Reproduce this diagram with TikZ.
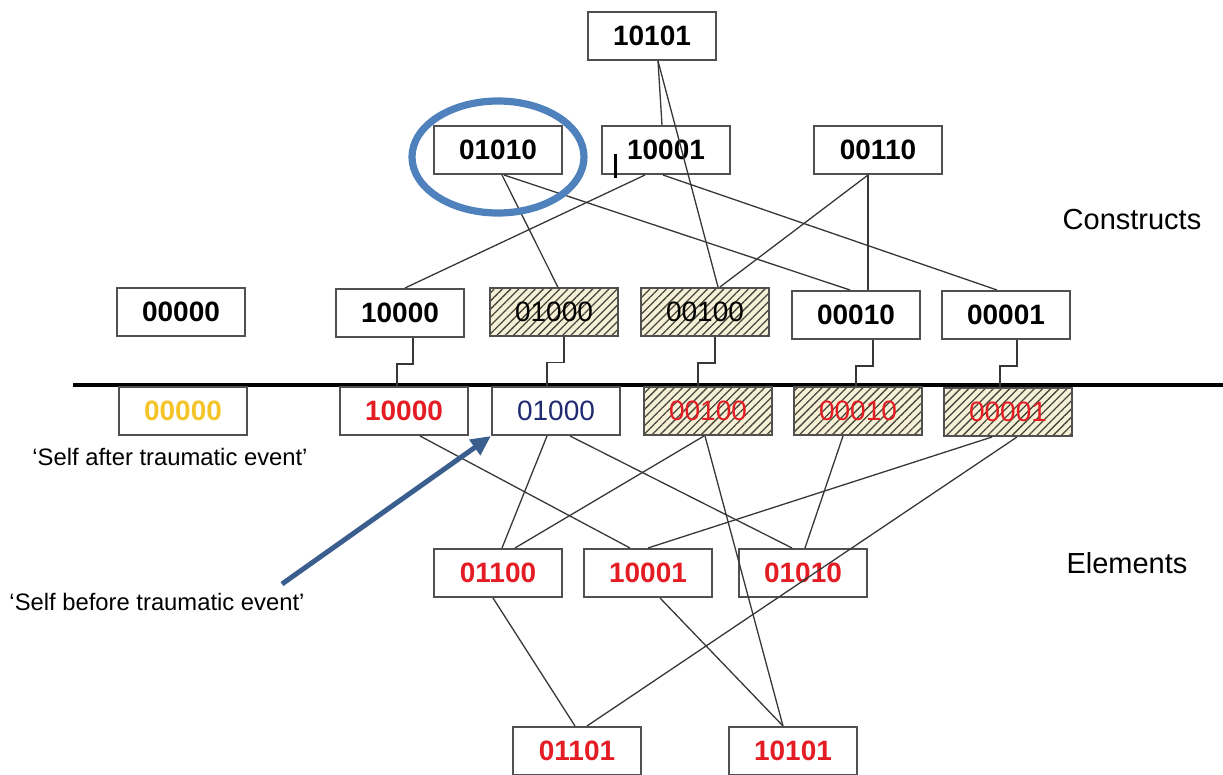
\documentclass[tikz,border=0pt]{standalone}
\usepackage{fontspec}
\setmainfont{Liberation Sans}
\usetikzlibrary{calc,arrows.meta,patterns.meta}

\definecolor{elemred}{RGB}{228,28,36}
\definecolor{selfblue}{RGB}{32,42,112}
\definecolor{nullgold}{RGB}{244,196,40}
\definecolor{hatchbg}{RGB}{246,241,214}
\definecolor{hatchfg}{RGB}{70,70,60}
\definecolor{ringblue}{RGB}{79,129,189}
\definecolor{arrowblue}{RGB}{58,95,143}
\definecolor{framegray}{RGB}{80,80,80}
\definecolor{linkgray}{RGB}{55,55,55}

\tikzset{
    plainbox/.style={draw=framegray, line width=1pt, minimum width=64pt,
        minimum height=24pt, inner sep=0pt,
        font=\fontsize{14}{16}\selectfont\bfseries},
    hatchbox/.style={plainbox, font=\fontsize{14}{16}\selectfont,
        preaction={fill=hatchbg},
        pattern={Lines[angle=45,distance=2.9pt,line width=0.65pt]},
        pattern color=hatchfg},
    link/.style={draw=linkgray, line width=0.65pt},
    tag/.style={font=\fontsize{11.9}{14}\selectfont},
    side/.style={font=\fontsize{14.5}{17}\selectfont}
}

\begin{document}
\begin{tikzpicture}[x=0.5pt,y=-0.5pt]
    % Page size of the reference (units are pixels)
    \useasboundingbox (0,0) rectangle (1223,775);

    % Constructs
    \node[plainbox] (cTop)   at (652,36)  {10101};
    \node[plainbox] (c01010) at (498,150) {01010};
    \node[plainbox] (c10001) at (666,150) {10001};
    \node[plainbox] (c00110) at (878,150) {00110};
    \node[plainbox] (c00000) at (181,312) {00000};
    \node[plainbox] (c10000) at (400,313) {10000};
    \node[hatchbox] (c01000) at (554,312) {01000};
    \node[hatchbox] (c00100) at (705,312) {00100};
    \node[plainbox] (c00010) at (856,315) {00010};
    \node[plainbox] (c00001) at (1006,315) {00001};

    % Dividing line
    \coordinate (lineL) at (73,385);
    \coordinate (lineR) at (1223,385);
    \draw[line width=2.2pt] (lineL) -- (lineR);

    % Elements
    \node[plainbox, text=nullgold] (e00000) at (183,411) {00000};
    \node[plainbox, text=elemred]  (e10000) at (404,411) {10000};
    \node[plainbox, text=selfblue, font=\fontsize{14}{16}\selectfont] (e01000) at (556,411) {01000};
    \node[hatchbox, text=elemred]  (e00100) at (708,411) {00100};
    \node[hatchbox, text=elemred]  (e00010) at (858,411) {00010};
    \node[hatchbox, text=elemred]  (e00001) at (1008,412) {00001};
    \node[plainbox, text=elemred]  (e01100) at (498,573) {01100};
    \node[plainbox, text=elemred]  (e10001) at (648,573) {10001};
    \node[plainbox, text=elemred]  (e01010) at (803,573) {01010};
    \node[plainbox, text=elemred]  (e01101) at (577,751) {01101};
    \node[plainbox, text=elemred]  (e10101) at (793,751) {10101};

    % Links between constructs
    \draw[link] ($(cTop.south)+(6,0)$)    -- ($(c10001.north)+(-4,0)$);
    \draw[link] ($(cTop.south)+(6,0)$)    -- ($(c00100.north)+(13,0)$);
    \draw[link] ($(c01010.south)+(4,0)$)  -- ($(c01000.north)+(4,0)$);
    \draw[link] ($(c01010.south)+(6,0)$)  -- ($(c00010.north)+(-6,0)$);
    \draw[link] ($(c10001.south)+(-21,0)$) -- ($(c10000.north)+(5,0)$);
    \draw[link] ($(c10001.south)+(-3,0)$) -- ($(c00001.north)+(-9,0)$);
    \draw[link] ($(c00110.south)+(-10,0)$) -- ($(c00100.north)+(15,0)$);
    \draw[link] ($(c00110.south)+(-10,0)$) -- ($(c00010.north)+(12,0)$);

    % Steps from each atom construct to its element
    \foreach \n/\a/\b in {10000/13/-7, 01000/10/-9, 00100/10/-10, 00010/17/-2, 00001/11/-8}
        \draw[link] ($(c\n.south)+(\a,0)$) -- ++(0,26) -| ($(e\n.north)+(\b,0)$);

    % Links between elements
    \draw[link] ($(e10000.south)+(16,0)$)  -- ($(e10001.north)+(-18,0)$);
    \draw[link] ($(e01000.south)+(-9,0)$)  -- ($(e01100.north)+(4,0)$);
    \draw[link] ($(e01000.south)+(14,0)$)  -- ($(e01010.north)+(-11,0)$);
    \draw[link] ($(e00100.south)+(-4,0)$)  -- ($(e01100.north)+(17,0)$);
    \draw[link] ($(e00100.south)+(-3,0)$)  -- ($(e10101.north)+(-10,0)$);
    \draw[link] ($(e00010.south)+(-15,0)$) -- ($(e01010.north)+(2,0)$);
    \draw[link] ($(e00001.south)+(-16,0)$) -- ($(e10001.north)+(0,0)$);
    \draw[link] ($(e00001.south)+(9,0)$)   -- ($(e01101.north)+(10,0)$);
    \draw[link] ($(e01100.south)+(-5,0)$)  -- ($(e01101.north)+(-2,0)$);
    \draw[link] ($(e10001.south)+(12,0)$)  -- ($(e10101.north)+(-10,0)$);

    % Stray tick beside 10001
    \draw[line width=1.5pt] (615,154) -- (615,178);

    % Ring round 01010 and arrow to the self element
    \draw[ringblue, line width=3.6pt] (498,157) ellipse [x radius=86, y radius=56];
    \coordinate (arrowTail) at (282,584);
    \draw[arrowblue, line width=2.5pt, -{Triangle[length=10pt,width=9pt]}] (arrowTail) -- (e01000.south west);

    % Labels
    \node[tag]  (after)      at (170,457)  {‘Self after traumatic event’};
    \node[tag]  (before)     at (157,602)  {‘Self before traumatic event’};
    \node[side] (constructs) at (1132,220) {Constructs};
    \node[side] (elements)   at (1127,563) {Elements};
\end{tikzpicture}
\end{document}
